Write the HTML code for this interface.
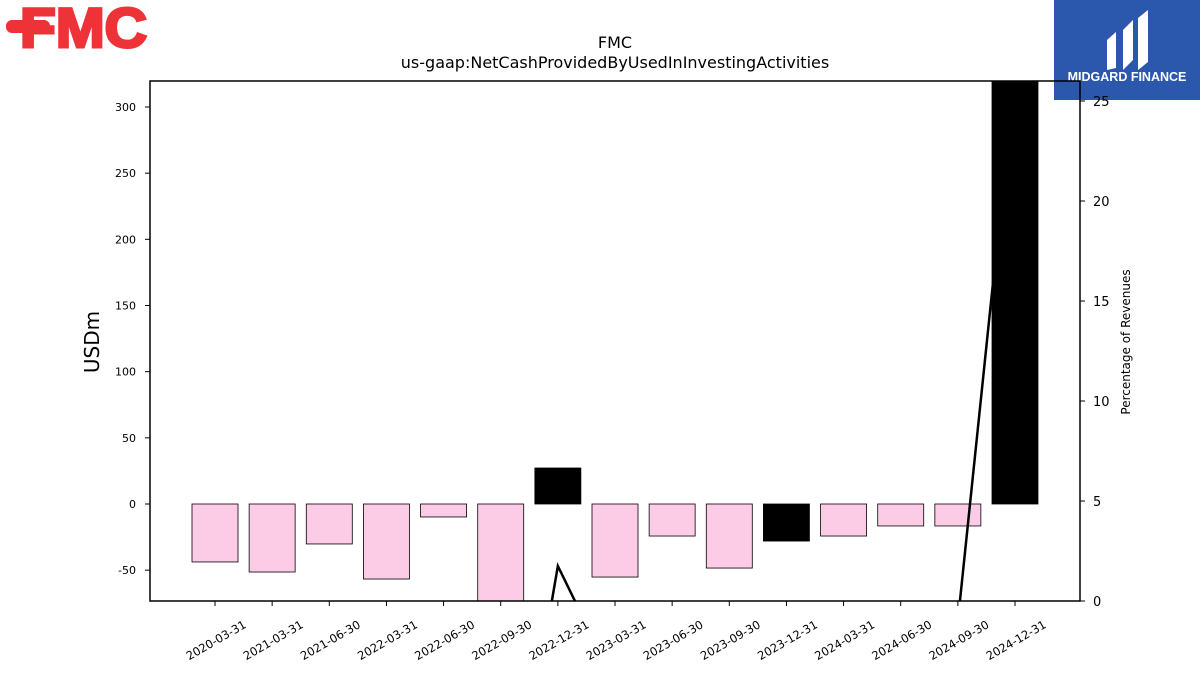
<!DOCTYPE html>
<html><head><meta charset="utf-8"><style>
html,body{margin:0;padding:0;background:#fff;width:1200px;height:675px;overflow:hidden;font-family:"Liberation Sans","DejaVu Sans",sans-serif}
svg{display:block}
</style></head><body>
<svg id="chart" width="1200" height="675" xmlns="http://www.w3.org/2000/svg" font-family="DejaVu Sans, Liberation Sans, sans-serif">
<defs><clipPath id="plotclip"><rect x="150" y="81" width="930" height="520"/></clipPath></defs>
<g fill="#ee3338">
<rect x="6" y="20" width="44" height="13" rx="6"/>
<text x="20" y="47" font-family="Liberation Sans, sans-serif" font-weight="bold" font-size="56" fill="#ee3338" stroke="#ee3338" stroke-width="3" textLength="127" lengthAdjust="spacingAndGlyphs">FMC</text>
</g>
<g>
<rect x="1054" y="0" width="146" height="100" fill="#2b58ad"/>
<path d="M1107 40 L1116 32 L1116 68 L1107 70 Z M1123 30 L1133 20 L1133 60 L1123 70 Z M1138 18 L1148 10 L1148 62 L1138 70 Z" fill="#fff"/>
<text x="1127" y="81" text-anchor="middle" font-family="Liberation Sans, sans-serif" font-weight="bold" font-size="12.5" fill="#fff">MIDGARD FINANCE</text>
</g>
<text x="615" y="48" text-anchor="middle" font-size="16">FMC</text>
<text x="615" y="68" text-anchor="middle" font-size="16">us-gaap:NetCashProvidedByUsedInInvestingActivities</text>
<g id="bars" clip-path="url(#plotclip)"></g>
<g id="line" clip-path="url(#plotclip)"></g>
<rect x="150" y="81" width="930" height="520" fill="none" stroke="#000" stroke-width="1.5"/>
<g id="axes"></g>
<text transform="translate(99,342) rotate(-90)" text-anchor="middle" font-size="20">USDm</text>
<text transform="translate(1130,342) rotate(-90)" text-anchor="middle" font-size="12">Percentage of Revenues</text>
</svg>
<script>
const categories=["2020-03-31","2021-03-31","2021-06-30","2022-03-31","2022-06-30","2022-09-30","2022-12-31","2023-03-31","2023-06-30","2023-09-30","2023-12-31","2024-03-31","2024-06-30","2024-09-30","2024-12-31"];
const values=[-43.8,-51.4,-30.2,-56.7,-9.8,-231,27.2,-55.2,-24.2,-48.4,-28,-24.2,-16.6,-16.6,400];
const pctValues=[-2.8,-3.3,-1.9,-3.7,-0.6,-14.9,1.75,-4.1,-1.6,-3.1,-1.8,-1.6,-1.1,-1.0,26.5];
const highlight=[0,0,0,0,0,0,1,0,0,0,1,0,0,0,1];
const leftTicks=[-50,0,50,100,150,200,250,300];
const rightTicks=[0,5,10,15,20,25];
const NS="http://www.w3.org/2000/svg";
const yL=v=>504-v*(397/300);
const yR=v=>601-v*20;
const xC=i=>215+i*(800/14);
function mk(tag,attrs,parent){const e=document.createElementNS(NS,tag);for(const k in attrs)e.setAttribute(k,attrs[k]);parent.appendChild(e);return e;}
const bars=document.getElementById('bars'),line=document.getElementById('line'),axes=document.getElementById('axes');
values.forEach((v,i)=>{
 const y=Math.min(yL(v),yL(0)),h=Math.abs(yL(v)-yL(0));
 const r=mk('rect',{x:xC(i)-23,y:y,width:46,height:h,fill:highlight[i]?'#000':'#fccce6',stroke:'#000','stroke-width':0.8},bars);
 
 
});
const pts=pctValues.map((p,i)=>xC(i)+','+yR(p)).join(' ');
const pl=mk('polyline',{points:pts,fill:'none',stroke:'#000','stroke-width':2.5},line);


leftTicks.forEach(t=>{
 const y=yL(t);
 mk('line',{x1:145,x2:150,y1:y,y2:y,stroke:'#000'},axes);
 const tx=mk('text',{x:136,y:y+4,'text-anchor':'end','font-size':11},axes);tx.textContent=t;
 
 
});
rightTicks.forEach(t=>{
 const y=yR(t);
 mk('line',{x1:1080,x2:1085,y1:y,y2:y,stroke:'#000'},axes);
 const tx=mk('text',{x:1093,y:y+5,'font-size':13},axes);tx.textContent=t;
 
 
});
categories.forEach((c,i)=>{
 const x=xC(i);
 mk('line',{x1:x,x2:x,y1:601,y2:606,stroke:'#000'},axes);
 const tx=mk('text',{transform:`translate(${x+32},${627}) rotate(-30)`,'text-anchor':'end','font-size':11.5},axes);tx.textContent=c;
 
 
});
</script>
</body></html>
